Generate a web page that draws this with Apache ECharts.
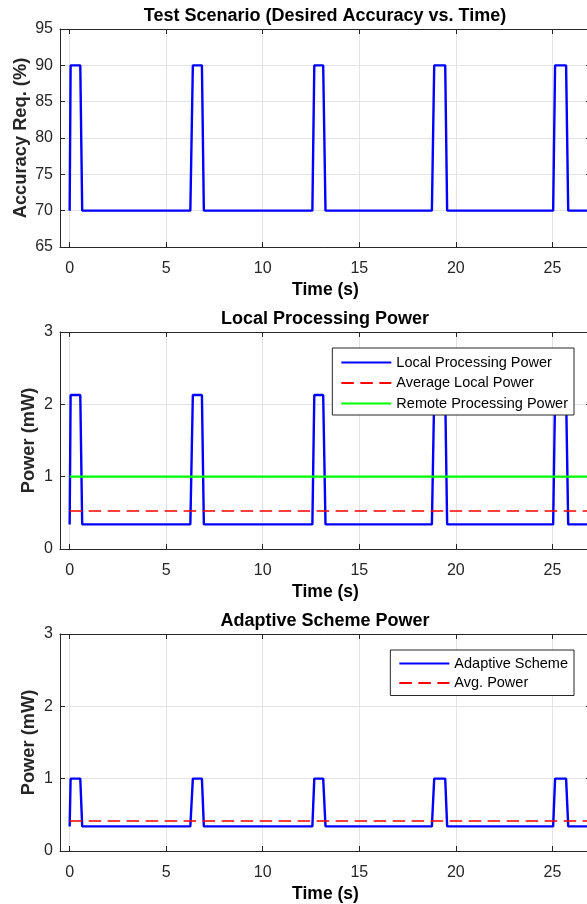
<!DOCTYPE html>
<html>
<head>
<meta charset="utf-8">
<script src="https://cdn.jsdelivr.net/npm/echarts@6/dist/echarts.min.js"></script>
<style>
  html, body { margin: 0; padding: 0; background: #fff; }
  #chart { width: 587px; height: 904px; }
</style>
</head>
<body>
<div id="chart"></div>
<script>
// Breakpoints of the periodic test scenario (seconds)
const timeBreaks = [0, 0.05, 0.55, 0.65, 6.25, 6.38, 6.85, 6.95, 12.57, 12.67, 13.13, 13.25,
                    18.76, 18.88, 19.45, 19.55, 25.04, 25.14, 25.71, 25.82, 27];
// Desired accuracy (%) at each breakpoint
const accuracyReq = [70, 90, 90, 70, 70, 90, 90, 70, 70, 90, 90, 70,
                     70, 90, 90, 70, 70, 90, 90, 70, 70];
// Local processing power (mW)
const localPower = [0.34, 2.13, 2.13, 0.34, 0.34, 2.13, 2.13, 0.34, 0.34, 2.13, 2.13, 0.34,
                    0.34, 2.13, 2.13, 0.34, 0.34, 2.13, 2.13, 0.34, 0.34];
// Adaptive scheme power (mW)
const adaptivePower = [0.34, 1.0, 1.0, 0.34, 0.34, 1.0, 1.0, 0.34, 0.34, 1.0, 1.0, 0.34,
                       0.34, 1.0, 1.0, 0.34, 0.34, 1.0, 1.0, 0.34, 0.34];
// Constant reference levels (mW)
const avgLocalPower = 0.525;
const remotePower = 1.0;
const avgAdaptivePower = 0.415;
const levelTimes = [0, 27];

const titles = ['Test Scenario (Desired Accuracy vs. Time)', 'Local Processing Power', 'Adaptive Scheme Power'];
const yLabels = ['Accuracy Req. (%)', 'Power (mW)', 'Power (mW)'];
const xLabel = 'Time (s)';

const FONT = '"Liberation Sans", Arial, Helvetica, sans-serif';
const AX = '#262626';
const GRIDC = '#e3e3e3';

const pairs = (xs, ys) => xs.map((x, i) => [x, ys[i]]);
const level = (v) => levelTimes.map(t => [t, v]);

// Fixed axes boxes; the plot area runs slightly past the right edge of the canvas
const grids = [
  { left: 60, top: 29, width: 531, height: 218, outerBoundsMode: 'none', containLabel: false },
  { left: 60, top: 332, width: 531, height: 217, outerBoundsMode: 'none', containLabel: false },
  { left: 60, top: 634, width: 531, height: 217, outerBoundsMode: 'none', containLabel: false }
];

const xAxes = [];
const yAxes = [];
const yRanges = [[65, 95, 5], [0, 3, 1], [0, 3, 1]];
const yNameGaps = [30, 22.5, 22.5];

grids.forEach((g, i) => {
  const xBase = {
    type: 'value', gridIndex: i, min: -0.5, max: 27, splitNumber: 5,
    nameMoveOverlap: false,
    axisLine: { show: true, onZero: false, lineStyle: { color: AX, width: 1 } },
    axisTick: { show: true, inside: true, length: 5, lineStyle: { color: AX } },
  };
  xAxes.push(Object.assign({}, xBase, {
    position: 'bottom',
    name: xLabel, nameLocation: 'middle', nameGap: 34,
    nameTextStyle: { fontFamily: FONT, fontSize: 17.5, fontWeight: 'bold', color: '#000' },
    axisLabel: { show: true, margin: 13.5, fontFamily: FONT, fontSize: 16, color: AX,
                 showMinLabel: false, showMaxLabel: false,
                 formatter: v => (Math.abs(v % 5) < 1e-9 ? String(v) : '') },
    splitLine: { show: true, lineStyle: { color: GRIDC, width: 1 } }
  }));
  xAxes.push(Object.assign({}, xBase, {
    position: 'top',
    axisLabel: { show: false },
    splitLine: { show: false }
  }));

  const [ymin, ymax, yint] = yRanges[i];
  const yBase = {
    type: 'value', gridIndex: i, min: ymin, max: ymax, interval: yint,
    nameMoveOverlap: false,
    axisLine: { show: true, onZero: false, lineStyle: { color: AX, width: 1 } },
    axisTick: { show: true, inside: true, length: 5, lineStyle: { color: AX } },
  };
  yAxes.push(Object.assign({}, yBase, {
    position: 'left',
    name: yLabels[i], nameLocation: 'middle', nameGap: yNameGaps[i],
    nameTextStyle: { fontFamily: FONT, fontSize: 18.3, fontWeight: 'bold', color: AX },
    axisLabel: { show: true, margin: 7, fontFamily: FONT, fontSize: 16, color: AX },
    splitLine: { show: true, lineStyle: { color: GRIDC, width: 1 } }
  }));
  yAxes.push(Object.assign({}, yBase, {
    position: 'right',
    axisLabel: { show: false },
    splitLine: { show: false }
  }));
});

const blue = '#0000ff', red = '#ff0000', green = '#00ff00';
const dash = [12.5, 6.5];

const lineSeries = (name, gi, data, color, width, type) => ({
  name, type: 'line', xAxisIndex: gi * 2, yAxisIndex: gi * 2, data,
  symbol: 'none', showSymbol: false, animation: false, clip: true,
  itemStyle: { color },
  lineStyle: { color, width, type: type || 'solid' },
  emphasis: { disabled: true }
});

const series = [
  lineSeries('Accuracy', 0, pairs(timeBreaks, accuracyReq), blue, 2.4),
  lineSeries('Local Processing Power', 1, pairs(timeBreaks, localPower), blue, 2.4),
  lineSeries('Average Local Power', 1, level(avgLocalPower), red, 1.4, dash),
  lineSeries('Remote Processing Power', 1, level(remotePower), green, 2.4),
  lineSeries('Adaptive Scheme', 2, pairs(timeBreaks, adaptivePower), blue, 2.4),
  lineSeries('Avg. Power', 2, level(avgAdaptivePower), red, 1.4, dash)
];

// Legend keys show only the line sample (the marker is made transparent)
const legendBase = {
  orient: 'vertical', itemWidth: 50, itemHeight: 14, itemTextGap: 5,
  backgroundColor: '#fff', borderColor: AX, borderWidth: 1, borderRadius: 0,
  selectedMode: false,
  itemStyle: { opacity: 0, borderWidth: 0 },
  textStyle: { fontFamily: FONT, fontSize: 14.5, color: '#000', lineHeight: 14 }
};

const option = {
  animation: false,
  backgroundColor: '#fff',
  title: titles.map((t, i) => ({
    text: t, left: 325, top: [7, 310, 612][i], textAlign: 'center', padding: 0,
    textStyle: { fontFamily: FONT, fontSize: 18, fontWeight: 'bold', color: '#000' }
  })),
  grid: grids,
  xAxis: xAxes,
  yAxis: yAxes,
  legend: [
    Object.assign({}, legendBase, {
      data: ['Local Processing Power', 'Average Local Power', 'Remote Processing Power'],
      right: 13, top: 348, itemGap: 5.5, padding: [7, 6, 4, 8]
    }),
    Object.assign({}, legendBase, {
      data: ['Adaptive Scheme', 'Avg. Power'],
      right: 13, top: 650, itemGap: 4.5, padding: [6, 6, 5, 8]
    })
  ],
  series
};

const chart = echarts.init(document.getElementById('chart'), null, { renderer: 'canvas' });
chart.setOption(option);
</script>
</body>
</html>
